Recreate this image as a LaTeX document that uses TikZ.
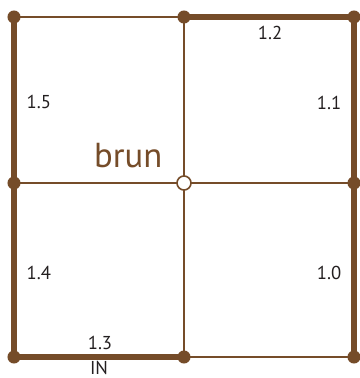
\documentclass[tikz,border=0pt]{standalone}
\usepackage{fontspec}
\setmainfont{PT Sans}
\definecolor{brunc}{RGB}{117,76,41}
\definecolor{labc}{RGB}{35,31,32}
\begin{document}
\begin{tikzpicture}[x=0.75pt, y=-0.75pt, font=\fontsize{14}{16}\selectfont, text=labc,
  thinedge/.style={draw=brunc, line width=1.4pt},
  thickedge/.style={draw=brunc, line width=4.6pt},
  dot/.style={circle, fill=brunc, inner sep=0pt, minimum size=9.8pt},
  hole/.style={circle, draw=brunc, fill=white, line width=1.2pt, inner sep=0pt, minimum size=10.5pt}]
  \useasboundingbox (0,0) rectangle (360,378);
  % grid points
  \coordinate (tl) at (14,17);  \coordinate (tc) at (184,17);  \coordinate (tr) at (354,17);
  \coordinate (ml) at (14,183); \coordinate (mc) at (184,183); \coordinate (mr) at (354,183);
  \coordinate (bl) at (14,357); \coordinate (bc) at (184,357); \coordinate (br) at (354,357);
  % thin lines
  \draw[thinedge] (tl) -- (tc);
  \draw[thinedge] (ml) -- (mr);
  \draw[thinedge] (tc) -- (bc);
  \draw[thinedge] (bc) -- (br);
  % thick lines
  \draw[thickedge] (tl) -- (bl);
  \draw[thickedge] (tc) -- (tr);
  \draw[thickedge] (tr) -- (br);
  \draw[thickedge] (bl) -- (bc);
  % points
  \foreach \p in {tl,tc,tr,ml,mr,bl,bc,br}
    \node[dot] (d\p) at (\p) {};
  \node[hole] (dmc) at (mc) {};
  % labels
  \node[anchor=west] (l15) at (22,102) {1.5};
  \node (l12) at (270,33) {1.2};
  \node[anchor=east] (l11) at (346,103) {1.1};
  \node[anchor=west] (l14) at (22,273) {1.4};
  \node[anchor=east] (l10) at (346,273) {1.0};
  \node (l13) at (100,343) {1.3};
  \node[anchor=base, inner sep=1pt] (lin) at (99,374) {IN};
  \node[anchor=base east, text=brunc, font=\fontsize{26}{30}\selectfont] (lbrun) at (167,167) {brun};
\end{tikzpicture}
\end{document}
